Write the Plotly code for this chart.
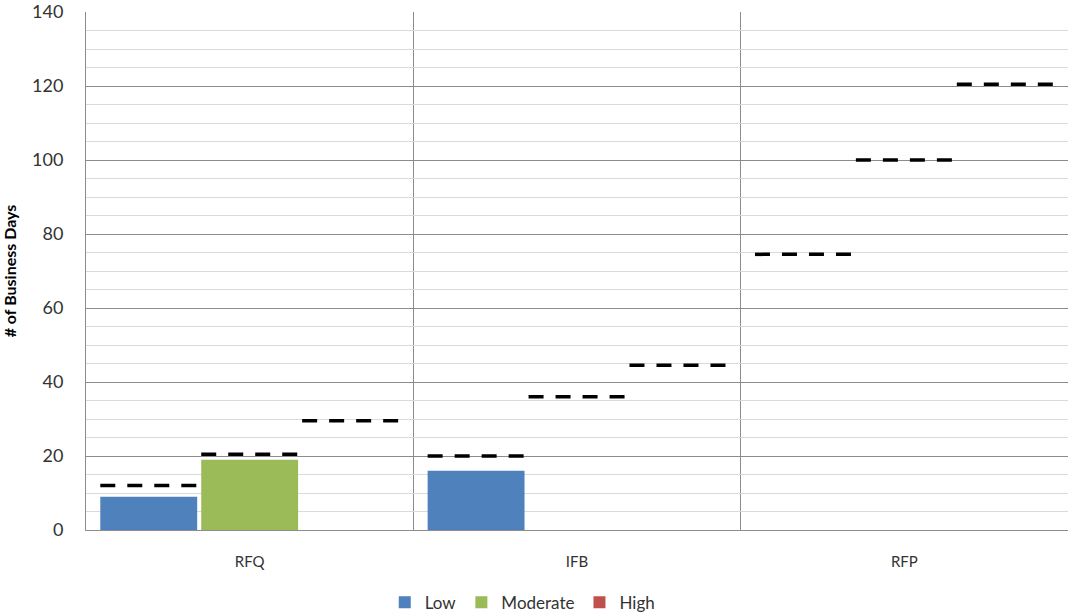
import plotly.graph_objects as go

categories = ["RFQ", "IFB", "RFP"]
series_names = ["Low", "Moderate", "High"]
low_values = [9, 16, 0]
moderate_values = [19, 0, 0]
high_values = [0, 0, 0]
target_low = [12, 20, 74.5]
target_moderate = [20.5, 36, 100]
target_high = [29.5, 44.5, 120.5]

colors = ["#4F81BD", "#9BBB59", "#C0504D"]
FONT = "Lato, 'Open Sans', sans-serif"

bargap = 0.075
bargroupgap = 0.04
xs = list(range(len(categories)))

fig = go.Figure()
for name, vals, col in zip(series_names, [low_values, moderate_values, high_values], colors):
    fig.add_trace(go.Bar(x=xs, y=vals, name=name, marker=dict(color=col, line=dict(width=0))))

slot = (1 - bargap) / 3
targets = [target_low, target_moderate, target_high]
for k, tvals in enumerate(targets):
    lx, ly = [], []
    for i, v in enumerate(tvals):
        c = i - (1 - bargap) / 2 + slot * (k + 0.5)
        half = slot * (1 - bargroupgap) / 2
        lx += [c - half, c + half, None]
        ly += [v, v, None]
    fig.add_trace(go.Scatter(x=lx, y=ly, mode="lines", showlegend=False, hoverinfo="skip",
                             line=dict(color="black", width=3.5, dash="15px,12px")))

fig.update_layout(
    width=1068, height=615,
    margin=dict(l=86, r=0, t=12, b=85, autoexpand=False),
    barmode="group", bargap=bargap, bargroupgap=bargroupgap,
    plot_bgcolor="white", paper_bgcolor="white",
    font=dict(family=FONT, color="#333333"),
    legend=dict(orientation="h", xref="container", x=0.489, xanchor="center",
                yref="container", y=0.02, yanchor="middle",
                font=dict(size=17, color="#333333"), traceorder="normal"),
    xaxis=dict(range=[-0.5, 2.5], tickvals=xs, ticktext=categories, showgrid=False,
               zeroline=False, showline=True, linecolor="#8c8c8c", linewidth=1, automargin=False,
               tickfont=dict(size=15, color="#333333"), ticks="", ticklabelstandoff=18,
               minor=dict(tick0=0.5, dtick=1, showgrid=True, gridcolor="#8c8c8c", gridwidth=1),
               mirror=False),
    yaxis=dict(range=[0, 140], dtick=20, showgrid=True, gridcolor="#8c8c8c", gridwidth=1,
               zeroline=False, showline=True, linecolor="#8c8c8c", linewidth=1, automargin=False,
               tickfont=dict(size=18, color="#333333"), ticks="", ticklabelstandoff=18,
               minor=dict(dtick=5, showgrid=True, gridcolor="#dadada", gridwidth=1),
               title=dict(text="<b># of Business Days</b>", font=dict(size=16, color="black"), standoff=12)),
)

fig.write_html("out.html", config={"displayModeBar": False},
               post_script="document.body.style.margin='0';document.body.style.overflow='hidden';")
